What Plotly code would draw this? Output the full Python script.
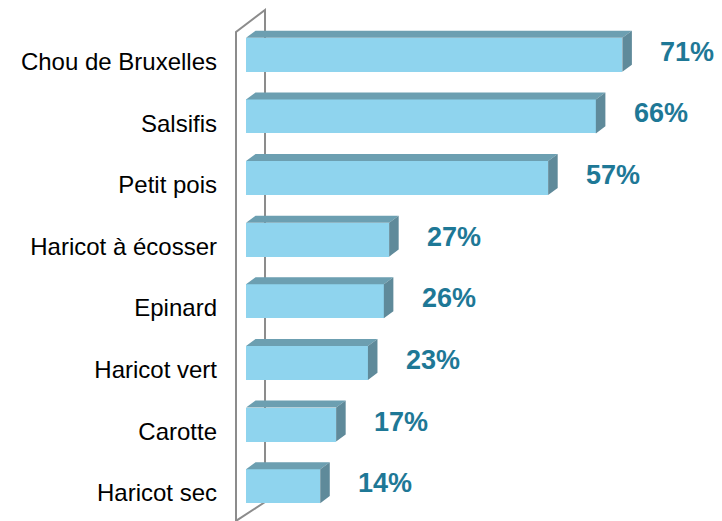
import plotly.graph_objects as go

categories = ["Chou de Bruxelles", "Salsifis", "Petit pois", "Haricot à écosser",
              "Epinard", "Haricot vert", "Carotte", "Haricot sec"]
values = [71, 66, 57, 27, 26, 23, 17, 14]
value_labels = ["71%", "66%", "57%", "27%", "26%", "23%", "17%", "14%"]

FRONT = "#8fd4ee"
TOP = "#6c9fb1"
SIDE = "#5f8a9a"
LABEL = "#1e7896"
WALL = "#8c8c8c"

half = 0.275   # half bar thickness (category units)
dx = 1.8       # depth offset along x (value units)
dy = 0.115     # depth offset along y (category units)

idx = list(range(len(categories)))

fig = go.Figure()

# front faces
fig.add_trace(go.Bar(
    x=values, y=idx, orientation="h", width=2 * half,
    marker=dict(color=FRONT, line=dict(width=0)),
    hoverinfo="skip", showlegend=False,
))

# top and side faces for the 3d look
top_x, top_y, side_x, side_y = [], [], [], []
for i, v in zip(idx, values):
    y0 = i - half
    y1 = i + half
    top_x += [0, dx, v + dx, v, 0, None]
    top_y += [y0, y0 - dy, y0 - dy, y0, y0, None]
    side_x += [v, v + dx, v + dx, v, v, None]
    side_y += [y0, y0 - dy, y1 - dy, y1, y0, None]

fig.add_trace(go.Scatter(x=top_x, y=top_y, fill="toself", fillcolor=TOP, mode="lines",
                         line=dict(width=0, color=TOP), hoverinfo="skip", showlegend=False))
fig.add_trace(go.Scatter(x=side_x, y=side_y, fill="toself", fillcolor=SIDE, mode="lines",
                         line=dict(width=0, color=SIDE), hoverinfo="skip", showlegend=False))

# value labels
for i, v, t in zip(idx, values, value_labels):
    fig.add_annotation(x=v, y=i, text=f"<b>{t}</b>", showarrow=False, xanchor="left",
                       xshift=36, yshift=3,
                       font=dict(family="Liberation Sans, Arial, sans-serif", size=27, color=LABEL))

# the 3d wall behind the category axis
fig.add_shape(type="path", xref="paper", yref="paper", layer="below",
              path="M 0,-0.03 L 0,0.9838 L 0.0597,1.0284 L 0.0597,0.0304 L 0,-0.008",
              line=dict(color=WALL, width=2))

# page body has an 8px margin, so the figure is sized to the remaining window
fig.update_layout(
    width=714, height=513,
    margin=dict(l=228, r=0, t=16, b=4),
    plot_bgcolor="white", paper_bgcolor="white",
    bargap=0,
    xaxis=dict(range=[-1.89, 89.8], visible=False, fixedrange=True),
    yaxis=dict(
        range=[7.5, -0.5], tickmode="array",
        tickvals=[i + 0.11 for i in idx], ticktext=categories,
        showgrid=False, zeroline=False, showline=False, ticks="",
        ticklabelstandoff=18,
        tickfont=dict(family="Liberation Sans, Arial, sans-serif", size=24, color="black"),
    ),
    showlegend=False,
)

fig.write_html("out.html", config={"displayModeBar": False})
